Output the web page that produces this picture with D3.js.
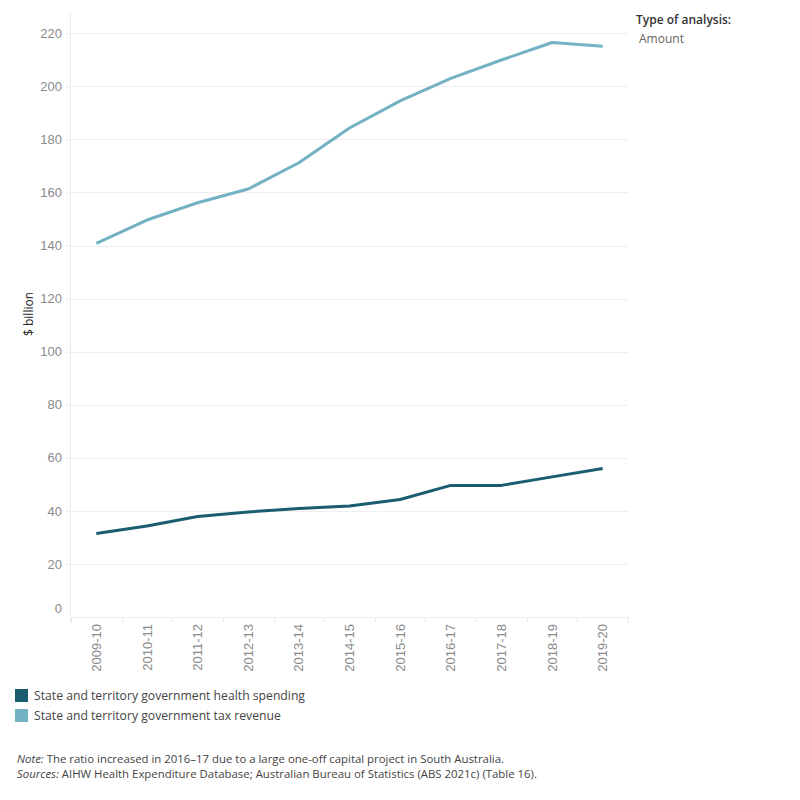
<!DOCTYPE html>
<html>
<head>
<meta charset="utf-8">
<script src="https://cdn.jsdelivr.net/npm/d3@7"></script>
<style>
  body { margin: 0; background: #fff; }
  svg { display: block; }
</style>
</head>
<body>
<div id="chart"></div>
<script>
// data
const years = ["2009-10","2010-11","2011-12","2012-13","2013-14","2014-15","2015-16","2016-17","2017-18","2018-19","2019-20"];
const healthSpending = [31.5, 34.3, 37.9, 39.6, 40.9, 41.8, 44.3, 49.6, 49.6, 52.8, 56.0];
const taxRevenue = [140.8, 149.6, 156.1, 161.3, 171.2, 184.3, 194.5, 203.0, 209.9, 216.5, 215.1];
const yTicks = [0, 20, 40, 60, 80, 100, 120, 140, 160, 180, 200, 220];
const seriesNames = ["State and territory government health spending", "State and territory government tax revenue"];
const seriesColors = ["#1a5c70", "#72b2c3"];

const W = 800, H = 800;
const plot = {left: 71, right: 628, top: 12, bottom: 617};

const svg = d3.select("#chart")
  .append("svg")
    .attr("width", W)
    .attr("height", H);

// scales
const x = d3.scaleBand()
  .domain(years)
  .range([plot.left, plot.right])
  .padding(0);

const y = d3.scaleLinear()
  .domain([0, 228])
  .range([plot.bottom, plot.top]);

// gridlines
svg.append("g")
  .selectAll("line")
  .data(yTicks.filter(d => d > 0))
  .join("line")
    .attr("x1", plot.left)
    .attr("x2", plot.right)
    .attr("y1", d => Math.round(y(d)) + 0.5)
    .attr("y2", d => Math.round(y(d)) + 0.5)
    .attr("stroke", "#efefef")
    .attr("stroke-width", 1);

// y axis
const yAxis = svg.append("g")
  .attr("transform", `translate(${plot.left},0)`)
  .call(d3.axisLeft(y).tickValues(yTicks).tickSize(5).tickPadding(4));
yAxis.select(".domain").attr("stroke", "#ececec").attr("d", `M-0.5,${plot.top}V${plot.bottom + 6}`);
yAxis.selectAll(".tick line").attr("stroke", "#ececec");
yAxis.selectAll(".tick text")
  .attr("fill", "#8a8a8a")
  .attr("font-family", "'Liberation Sans', Arial, sans-serif")
  .attr("font-size", 13)
  .attr("dy", d => d === 0 ? "-0.35em" : "0.32em");
yAxis.selectAll(".tick").filter(d => d === 0).select("line").remove();

// x axis
const xAxis = svg.append("g")
  .attr("transform", `translate(0,${plot.bottom})`)
  .call(d3.axisBottom(x).tickSize(0).tickPadding(0));
xAxis.select(".domain").attr("stroke", "#ececec").attr("d", `M${plot.left},0.5H${plot.right}`);
xAxis.selectAll(".tick text")
  .attr("fill", "#8a8a8a")
  .attr("font-family", "'Liberation Sans', Arial, sans-serif")
  .attr("font-size", 13)
  .attr("text-anchor", "end")
  .attr("transform", "rotate(-90)")
  .attr("x", -7)
  .attr("y", 0)
  .attr("dy", "0.35em");

// band separator ticks
svg.append("g")
  .selectAll("line")
  .data(years)
  .join("line")
    .attr("x1", d => Math.round(x(d)) + 0.5)
    .attr("x2", d => Math.round(x(d)) + 0.5)
    .attr("y1", plot.bottom)
    .attr("y2", plot.bottom + 6)
    .attr("stroke", "#ececec");
svg.append("line")
  .attr("x1", plot.right + 0.5).attr("x2", plot.right + 0.5)
  .attr("y1", plot.bottom).attr("y2", plot.bottom + 6)
  .attr("stroke", "#ececec");

// y axis title
svg.append("text")
  .attr("transform", `translate(33,314) rotate(-90)`)
  .attr("text-anchor", "middle")
  .attr("font-family", "'Open Sans', sans-serif")
  .attr("font-size", 12)
  .attr("fill", "#222")
  .text("$ billion");

// lines
const line = d3.line()
  .x((d, i) => x(years[i]) + x.bandwidth() / 2)
  .y(d => y(d));

[healthSpending, taxRevenue].forEach((vals, i) => {
  svg.append("path")
    .datum(vals)
    .attr("fill", "none")
    .attr("stroke", seriesColors[i])
    .attr("stroke-width", 3)
    .attr("stroke-linejoin", "round")
    .attr("d", line);
});

// parameter caption
svg.append("text")
  .attr("x", 636)
  .attr("y", 24)
  .attr("font-family", "'Open Sans', sans-serif")
  .attr("font-size", 12)
  .attr("font-weight", 600)
  .attr("fill", "#333")
  .text("Type of analysis:");
svg.append("text")
  .attr("x", 639)
  .attr("y", 43)
  .attr("font-family", "'Open Sans', sans-serif")
  .attr("font-size", 12)
  .attr("fill", "#666")
  .text("Amount");

// legend
const legend = svg.append("g")
  .selectAll("g")
  .data(seriesNames)
  .join("g")
    .attr("transform", (d, i) => `translate(15,${689 + i * 20})`);

legend.append("rect")
  .attr("width", 13)
  .attr("height", 13)
  .attr("fill", (d, i) => seriesColors[i]);

legend.append("text")
  .attr("x", 19)
  .attr("y", 7)
  .attr("dy", "0.35em")
  .attr("font-family", "'Open Sans', sans-serif")
  .attr("font-size", 12.2)
  .attr("fill", "#444")
  .text(d => d);

// notes
const notes = svg.append("g")
  .attr("font-family", "'Open Sans', sans-serif")
  .attr("font-size", 11.4)
  .attr("fill", "#444");

const n1 = notes.append("text").attr("x", 17).attr("y", 763);
n1.append("tspan").attr("font-style", "italic").text("Note:");
n1.append("tspan").text(" The ratio increased in 2016–17 due to a large one-off capital project in South Australia.");

const n2 = notes.append("text").attr("x", 17).attr("y", 778);
n2.append("tspan").attr("font-style", "italic").text("Sources:");
n2.append("tspan").text(" AIHW Health Expenditure Database; Australian Bureau of Statistics (ABS 2021c) (Table 16).");
</script>
</body>
</html>
